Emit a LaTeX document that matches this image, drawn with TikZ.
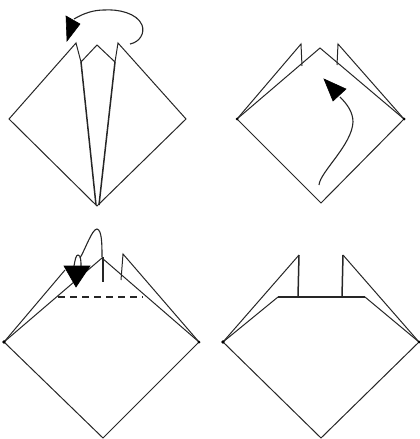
\documentclass[tikz,border=0pt]{standalone}
\tikzset{
  fold/.style={draw=black!85,line width=1pt,line join=miter},
  heavy/.style={draw=black!85,line width=1.5pt},
  curve/.style={draw=black!85,line width=1.1pt},
  tip/.style={fill=black,draw=black,line width=0.6pt},
  foldline/.style={draw=black!85,line width=1.2pt,dash pattern=on 7pt off 5pt},
  corner/.style={fill=black}
}
\begin{document}
\begin{tikzpicture}[x=1pt,y=-1pt]
\useasboundingbox (0,0) rectangle (420,439);
% Panel 1
\draw[fold] (9,119) -- (76,43) -- (81,62) -- (97,45) -- (115,62) -- (118,43) -- (186,119) -- (97,206) -- cycle;
\draw[heavy] (81,62) -- (96,205);
\draw[heavy] (115,62) -- (99,205);
\draw[curve] (130,44) .. controls (140,42) and (145,33) .. (142,25) .. controls (137,13) and (118,9) .. (104,10) .. controls (94,10) and (84,13) .. (74,19);
\fill[tip] (66,16) -- (80,24) -- (67,41) -- cycle;
% Panel 2
\draw[fold] (237,119) -- (320,48) -- (404,119) -- (321,203) -- cycle;
\draw[fold] (237,119) -- (301,44) -- (302,66);
\draw[fold] (404,119) -- (338,44) -- (337,65);
\draw[curve] (319,185) .. controls (320,172) and (352,145) .. (353,122) .. controls (353,112) and (347,104) .. (340,97);
\fill[tip] (324,79) -- (346,89) -- (333,101) -- cycle;
\fill[corner] (237,119) circle (1.5);
\fill[corner] (404,119) circle (1.5);
% Panel 3
\draw[fold] (4,342) -- (102,258) -- (199,342) -- (103,438) -- cycle;
\draw[fold] (4,342) -- (65,270);
\draw[fold] (199,342) -- (123,254) -- (121,280);
\draw[heavy] (103,257) -- (103,282);
\draw[curve] (80,258) .. controls (85,250) and (92,229) .. (97,229) .. controls (102,230) and (102,245) .. (102,257);
\draw[curve] (74,266) .. controls (75,260) and (76,255) .. (78,255) .. controls (81,255) and (81,262) .. (81,266);
\fill[tip] (64,266) -- (90,266) -- (76,287) -- cycle;
\draw[foldline] (58,297) -- (143,297);
\fill[corner] (4,342) circle (1.8);
\fill[corner] (199,342) circle (1.5);
% Panel 4
\draw[fold] (223,342) -- (278,297);
\draw[fold] (419,342) -- (365,297);
\draw[heavy] (278,297) -- (365,297);
\draw[fold] (223,342) -- (299,255);
\draw[heavy] (299,255) -- (298,297);
\draw[fold] (419,342) -- (343,255);
\draw[heavy] (343,255) -- (342,297);
\draw[fold] (223,342) -- (321,438) -- (419,342);
\fill[corner] (223,342) circle (1.8);
\fill[corner] (419,342) circle (1.5);
\end{tikzpicture}
\end{document}
